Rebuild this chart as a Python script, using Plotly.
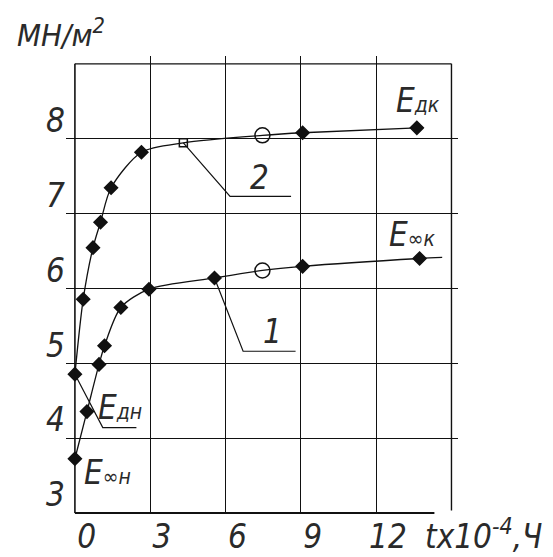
import plotly.graph_objects as go

# time t x 10^-4 h and modulus MN/m^2
t_dyn = [-0.47, -0.14, 0.25, 0.55, 0.97, 2.18, 3.85, 7.0, 8.6, 13.15]
e_dyn = [4.61, 5.61, 6.30, 6.64, 7.10, 7.575, 7.70, 7.80, 7.835, 7.90]
mark_dyn = ["diamond"] * 6 + ["square-open", "circle-open", "diamond", "diamond"]

t_inf = [-0.47, 0.01, 0.49, 0.71, 1.36, 2.48, 5.09, 7.0, 8.6, 13.26, 14.16]
e_inf = [3.48, 4.11, 4.74, 4.99, 5.50, 5.745, 5.895, 5.995, 6.05, 6.155, 6.17]
mark_inf = ["diamond"] * 7 + ["circle-open", "diamond", "diamond", None]

x_ticks = [0, 3, 6, 9, 12]
y_ticks = [3, 4, 5, 6, 7, 8]

FONT = "Liberation Sans Narrow, DejaVu Sans Condensed, Roboto"
INK = "#111111"
TXT = "#2a2a2a"

# drawing grid (offset from the tick labels, as on the sheet)
x_left, x_right = -0.47, 14.53
y_bottom, y_top = 2.755, 8.755
x_grid = [2.53, 5.53, 8.53, 11.53]
y_grid = [3.755, 4.755, 5.755, 6.755, 7.755]

fig = go.Figure()


def add_curve(t, e, marks):
    fig.add_trace(go.Scatter(x=t, y=e, mode="lines",
                             line=dict(color=INK, width=1.3, shape="spline", smoothing=0.8),
                             hoverinfo="skip", showlegend=False))
    idx = [i for i, m in enumerate(marks) if m]
    sizes = {"diamond": 10, "square-open": 8, "circle-open": 15}
    fig.add_trace(go.Scatter(x=[t[i] for i in idx], y=[e[i] for i in idx], mode="markers",
                             marker=dict(symbol=[marks[i] for i in idx],
                                         size=[sizes[marks[i]] for i in idx],
                                         opacity=1, color=INK,
                                         line=dict(color=INK, width=1.5)),
                             showlegend=False))


add_curve(t_dyn, e_dyn, mark_dyn)
add_curve(t_inf, e_inf, mark_inf)

line_style = dict(color=INK, width=1.2)
# leader lines: from a curve point to an elbow and a short shelf
leaders = [
    ((t_dyn[6], e_dyn[6]), (5.71, 6.985), (8.14, 6.985)),
    ((t_inf[6], e_inf[6]), (6.23, 4.916), (8.32, 4.916)),
    ((t_dyn[0], e_dyn[0]), (0.64, 3.897), (1.98, 3.897)),
]
shapes = []
for p0, p1, p2 in leaders:
    shapes.append(dict(type="path", xref="x", yref="y", line=line_style,
                       path=f"M {p0[0]},{p0[1]} L {p1[0]},{p1[1]} L {p2[0]},{p2[1]}"))


def seg(x0, y0, x1, y1, w):
    shapes.append(dict(type="line", xref="x", yref="y", x0=x0, x1=x1, y0=y0, y1=y1,
                       line=dict(color=INK, width=w)))


# frame: bottom and right edges are drawn short, like the original
seg(x_left, y_bottom, 13.85, y_bottom, 2)
seg(x_right, 2.79, x_right, y_top, 1.4)
seg(x_left, y_bottom, x_left, y_top, 1.6)
seg(x_left, y_top, x_right, y_top, 1.4)

lab = dict(family=FONT, size=33, color=TXT, style="italic")
sub = '<span style="font-size:21px">{}</span>'
notes = [
    ("E" + sub.format("дк"), 13.2, 8.27),
    ("E" + sub.format("∞к"), 12.96, 6.48),
    ("E" + sub.format("дн"), 1.33, 4.17),
    ("E" + sub.format("∞н"), 0.81, 3.30),
    ("2", 6.9, 7.24),
    ("1", 7.42, 5.18),
]
annotations = [dict(text=s, x=x, y=y, xref="x", yref="y", showarrow=False,
                    font=lab, xanchor="center", yanchor="middle") for s, x, y in notes]
annotations.append(dict(text="МН/м<sup>2</sup>", x=-0.13, y=1.05, xref="paper", yref="paper",
                        showarrow=False, font=dict(lab, size=31), xanchor="left", yanchor="middle"))
annotations.append(dict(text="tx10<sup>-4</sup>,Ч", x=1.22, y=-0.045, xref="paper", yref="paper",
                        showarrow=False, font=lab, xanchor="right", yanchor="middle"))

# the page body adds an 8px margin, so the figure is 8px smaller than the window
fig.update_layout(
    width=545, height=549,
    margin=dict(l=58, r=95, t=48, b=43, autoexpand=False),
    paper_bgcolor="white", plot_bgcolor="white",
    font=dict(family=FONT, size=33, color=TXT, style="italic"),
    shapes=shapes, annotations=annotations, showlegend=False,
    xaxis=dict(range=[-0.825, 14.79], tickvals=x_ticks, ticks="", showgrid=False,
               zeroline=False, showline=False, tickfont=lab, automargin=False,
               minor=dict(tickvals=x_grid, showgrid=True, gridcolor=INK, gridwidth=1.4, ticks="")),
    yaxis=dict(range=[2.742, 8.86], tickvals=y_ticks, ticks="", showgrid=False,
               zeroline=False, showline=False, tickfont=lab, automargin=False,
               minor=dict(tickvals=y_grid, showgrid=True, gridcolor=INK, gridwidth=1.4, ticks="")),
)

fig.write_html("out.html")
